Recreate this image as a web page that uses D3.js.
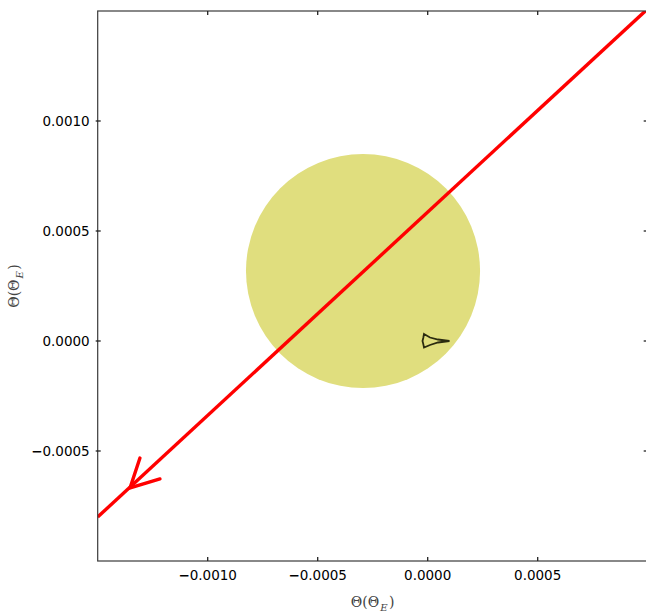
<!DOCTYPE html>
<html>
<head>
<meta charset="utf-8">
<script src="https://cdn.jsdelivr.net/npm/d3@7"></script>
<style>
  body { margin: 0; background: #fff; }
  svg { display: block; }
</style>
</head>
<body>
<svg id="chart" width="646" height="612"></svg>
<script>
'use strict';

// axis ranges and ticks (theta_E units)
var xDomain = [-0.0015, 0.001];
var yDomain = [-0.001, 0.0015];
var xTicks = [-0.001, -0.0005, 0, 0.0005];
var yTicks = [-0.0005, 0, 0.0005, 0.001];

// source disc
var sourceX = -0.000294;
var sourceY = 0.000318;
var sourceR = 0.000532;

// source trajectory
var trajX = [-0.0015, 0.001];
var trajY = [-0.000800, 0.001510];

// arrow head: arm, tip, arm
var arrowX = [-0.001308, -0.001353, -0.001217];
var arrowY = [-0.000532, -0.000668, -0.000627];

// caustic outline
var causticX = [-0.0000168, 0.0000105, 0.0000468, 0.0000990, 0.0000468, 0.0000105, -0.0000168, -0.0000200, -0.0000236, -0.0000200];
var causticY = [0.0000318, 0.0000159, 0.0000068, 0.0, -0.0000068, -0.0000182, -0.0000295, -0.0000140, 0.0, 0.0000150];

var margin = {left: 97.7, top: 11, right: 647.7, bottom: 561};

var svg = d3.select('#chart');
var x = d3.scaleLinear().domain(xDomain).range([margin.left, margin.right]);
var y = d3.scaleLinear().domain(yDomain).range([margin.bottom, margin.top]);

var fmt = d3.format('.4f');

svg.append('clipPath').attr('id', 'clip')
  .append('rect')
  .attr('x', margin.left).attr('y', margin.top)
  .attr('width', margin.right - margin.left)
  .attr('height', margin.bottom - margin.top);

var plot = svg.append('g').attr('clip-path', 'url(#clip)');

plot.append('circle')
  .attr('cx', x(sourceX))
  .attr('cy', y(sourceY))
  .attr('r', x(sourceX + sourceR) - x(sourceX))
  .attr('fill', '#e0de7e');

var caustic = d3.range(causticX.length).map(function(i) { return [causticX[i], causticY[i]]; });
plot.append('path')
  .datum(caustic)
  .attr('d', d3.line().x(function(d) { return x(d[0]); }).y(function(d) { return y(d[1]); }).curve(d3.curveLinearClosed))
  .attr('fill', 'none')
  .attr('stroke', '#2b2b10')
  .attr('stroke-width', 1.8)
  .attr('stroke-linejoin', 'miter');

var traj = d3.range(trajX.length).map(function(i) { return [trajX[i], trajY[i]]; });
var arrow = d3.range(arrowX.length).map(function(i) { return [arrowX[i], arrowY[i]]; });
var line = d3.line().x(function(d) { return x(d[0]); }).y(function(d) { return y(d[1]); });

plot.append('path').datum(traj)
  .attr('d', line)
  .attr('fill', 'none').attr('stroke', '#ff0000').attr('stroke-width', 3.4);

plot.append('path').datum(arrow)
  .attr('d', line)
  .attr('fill', 'none').attr('stroke', '#ff0000').attr('stroke-width', 3.4)
  .attr('stroke-linecap', 'round').attr('stroke-linejoin', 'miter');

// frame
svg.append('rect')
  .attr('x', margin.left).attr('y', margin.top)
  .attr('width', margin.right - margin.left)
  .attr('height', margin.bottom - margin.top)
  .attr('fill', 'none').attr('stroke', '#3a3a3a').attr('stroke-width', 1.2);

// ticks, all inside the frame
var ticks = svg.append('g').attr('stroke', '#222').attr('stroke-width', 1.3);
xTicks.forEach(function(t) {
  ticks.append('line').attr('x1', x(t)).attr('x2', x(t)).attr('y1', margin.bottom).attr('y2', margin.bottom - 4);
  ticks.append('line').attr('x1', x(t)).attr('x2', x(t)).attr('y1', margin.top).attr('y2', margin.top + 4);
});
yTicks.forEach(function(t) {
  ticks.append('line').attr('y1', y(t)).attr('y2', y(t)).attr('x1', margin.left - 2).attr('x2', margin.left + 3);
  ticks.append('line').attr('y1', y(t)).attr('y2', y(t)).attr('x1', margin.right).attr('x2', margin.right - 4);
});

// tick label: bold minus like the reference
function tickText(sel) {
  sel.each(function(d) {
    var s = fmt(Math.abs(d));
    var t = d3.select(this);
    if (d < 0) t.append('tspan').attr('font-weight', 'bold').text('\u2212');
    t.append('tspan').text(s);
  });
}

var labels = svg.append('g')
  .attr('font-family', 'DejaVu Sans, sans-serif')
  .attr('font-size', 13.5)
  .attr('fill', '#000');

labels.selectAll('text.xt').data(xTicks).enter().append('text')
  .attr('x', function(d) { return x(d); })
  .attr('y', 580)
  .attr('text-anchor', 'middle')
  .call(tickText);

labels.selectAll('text.yt').data(yTicks).enter().append('text')
  .attr('x', margin.left - 8)
  .attr('y', function(d) { return y(d) + 5; })
  .attr('text-anchor', 'end')
  .call(tickText);

// axis titles
function thetaLabel(sel) {
  sel.append('tspan').text('\u0398(\u0398');
  sel.append('tspan').attr('font-style', 'italic').attr('font-size', 10).attr('dy', 3.5).attr('dx', 1).text('E');
  sel.append('tspan').attr('dy', -3.5).attr('dx', 1.5).text(')');
}

var xl = svg.append('text')
  .attr('x', (margin.left + margin.right) / 2)
  .attr('y', 607)
  .attr('text-anchor', 'middle')
  .attr('font-family', 'DejaVu Serif, serif')
  .attr('font-size', 14)
  .attr('fill', '#444');
thetaLabel(xl);

var yl = svg.append('text')
  .attr('transform', 'translate(19,' + ((margin.top + margin.bottom) / 2) + ') rotate(-90)')
  .attr('text-anchor', 'middle')
  .attr('font-family', 'DejaVu Serif, serif')
  .attr('font-size', 14)
  .attr('fill', '#444');
thetaLabel(yl);
</script>
</body>
</html>
